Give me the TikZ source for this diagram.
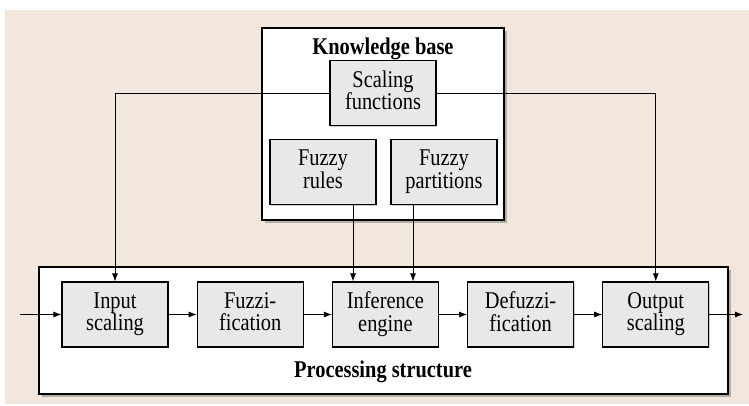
\documentclass[tikz,border=0pt]{standalone}
\usepackage{fontspec}
\setmainfont{Liberation Serif}[FakeStretch=0.85]
\usetikzlibrary{arrows.meta,positioning,shadows}

\definecolor{paper}{HTML}{F2E7DC}
\definecolor{blockgray}{HTML}{E8E8E8}

\begin{document}
\begin{tikzpicture}[
  x=1pt, y=-1pt,
  font=\fontsize{24}{22.5}\selectfont,
  >={Latex[length=8pt,width=6pt]},
  frame/.style={draw,line width=1.5pt,fill=white,
    drop shadow={shadow xshift=3pt,shadow yshift=-3pt,opacity=0.55}},
  block/.style={draw,line width=1.2pt,fill=blockgray,align=center,
    minimum width=106pt,minimum height=65pt,inner sep=0pt,text depth=6pt,
    drop shadow={shadow xshift=1pt,shadow yshift=-1pt,opacity=0.4}},
  title/.style={font=\fontsize{24}{22.5}\selectfont\bfseries},
  flow/.style={->,line width=0.8pt}
]

\useasboundingbox (0,0) rectangle (749,405);
\fill[paper] (5,10) rectangle (749,404);

% Outer frames
\node[frame,minimum width=242pt,minimum height=192pt] (kb) at (383,124) {};
\node[title] (kbtitle) at (383,49) {Knowledge base};
\node[frame,minimum width=689pt,minimum height=127pt] (ps) at (383.5,330.5) {};
\node[title] (pstitle) at (383,372) {Processing structure};

% Knowledge base
\node[block] (scalf) at (383,93) {Scaling\\functions};
\node[block] (rules) at (323,172) {Fuzzy\\rules};
\node[block] (parts) at (444,172) {Fuzzy\\partitions};

% Processing chain
\node[block] (insc) at (115,314.5) {Input\\scaling};
\node[block,right=28pt of insc] (fuzz) {Fuzzi-\\fication};
\node[block,right=28pt of fuzz] (infer) {Inference\\engine};
\node[block,right=28pt of infer] (defuzz) {Defuzzi-\\fication};
\node[block,right=28pt of defuzz] (outsc) {Output\\scaling};

\coordinate (in) at (20,314.5);
\coordinate (out) at (743,314.5);

% Signal flow
\draw[flow] (in) -- (insc);
\draw[flow] (insc) -- (fuzz);
\draw[flow] (fuzz) -- (infer);
\draw[flow] (infer) -- (defuzz);
\draw[flow] (defuzz) -- (outsc);
\draw[flow] (outsc) -- (out);

% Knowledge feeds
\draw[flow] (scalf.west) -| (insc.north);
\draw[flow] (scalf.east) -| (outsc.north);
\draw[flow] ([xshift=30pt]rules.south) -- ([xshift=30pt]rules.south |- infer.north);
\draw[flow] ([xshift=-31pt]parts.south) -- ([xshift=-31pt]parts.south |- infer.north);

\end{tikzpicture}
\end{document}
